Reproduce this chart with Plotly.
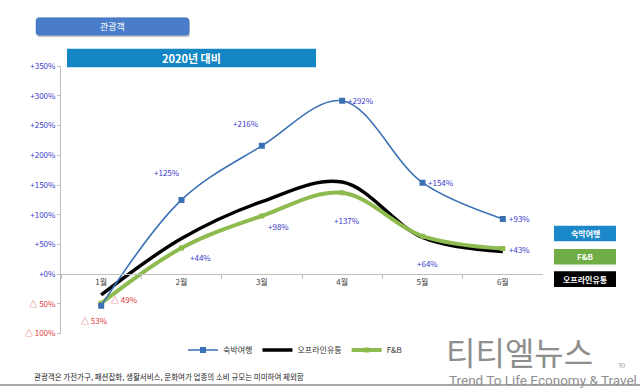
import plotly.graph_objects as go

# ---------------- data ----------------
months = ['1월', '2월', '3월', '4월', '5월', '6월']
lodging = [-53, 125, 216, 292, 154, 93]      # 숙박여행
offline = [-35, 60, 122, 155, 62, 38]        # 오프라인유통
fnb = [-49, 44, 98, 137, 64, 43]             # F&B
y_tick_vals = [-100, -50, 0, 50, 100, 150, 200, 250, 300, 350]

# label offsets (pixels) for data labels
lodging_off = [(-7, -15), (-15, 27), (-16, 22), (19, 0), (18, 0), (17, 0)]
fnb_off = [(23, 4), (19, -9), (17, -11), (5, -28), (5, -27), (17, -1)]

W, H = 640, 392
def px(x): return x / W
def py(y): return 1 - y / H

FONT = "Noto Sans CJK KR"
POS_C = '#3A3AC8'
NEG_C = '#E03A3A'

def fmt(v):
    return f"△ {abs(v)}%" if v < 0 else f"+{v}%"

def tick_txt(v):
    c = NEG_C if v < 0 else POS_C
    return f"<span style='color:{c}'>{fmt(v)}</span>"

x_dom = [px(61), px(543)]
y_dom = [py(337), py(62)]
y_rng = [-100, 350]
zero_pos = y_dom[0] + (0 - y_rng[0]) / (y_rng[1] - y_rng[0]) * (y_dom[1] - y_dom[0])

fig = go.Figure()
fig.add_trace(go.Scatter(x=months, y=offline, name='오프라인유통', mode='lines',
                         line=dict(color='#000000', width=3.5, shape='spline', smoothing=1.0),
                         legendrank=2))
fig.add_trace(go.Scatter(x=months, y=fnb, name='F&B', mode='lines+markers',
                         line=dict(color='#8DBB4F', width=4, shape='spline', smoothing=1.0),
                         marker=dict(symbol='square', size=5, color='#8DBB4F'),
                         legendrank=3))
fig.add_trace(go.Scatter(x=months, y=lodging, name='숙박여행', mode='lines+markers',
                         line=dict(color='#3A70B4', width=1.6, shape='spline', smoothing=1.0),
                         marker=dict(symbol='square', size=6, color='#3A70B4'),
                         legendrank=1))

annotations = []
for series, offs in ((lodging, lodging_off), (fnb, fnb_off)):
    for m, v, (dx, dy) in zip(months, series, offs):
        annotations.append(dict(x=m, y=v, xref='x', yref='y', text=fmt(v), showarrow=False,
                                xshift=dx, yshift=dy,
                                font=dict(family=FONT, size=8, color=NEG_C if v < 0 else POS_C)))

def rrect(x0, y0, x1, y1, r):
    P = lambda x, y: f"{px(x):.5f},{py(y):.5f}"
    return (f"M {P(x0+r,y0)} L {P(x1-r,y0)} Q {P(x1,y0)} {P(x1,y0+r)} L {P(x1,y1-r)} "
            f"Q {P(x1,y1)} {P(x1-r,y1)} L {P(x0+r,y1)} Q {P(x0,y1)} {P(x0,y1-r)} "
            f"L {P(x0,y0+r)} Q {P(x0,y0)} {P(x0+r,y0)} Z")

shapes = [
    dict(type='path', xref='paper', yref='paper', path=rrect(37, 14, 190, 32, 3),
         fillcolor='rgba(0,0,0,0.22)', line=dict(width=0)),
    dict(type='path', xref='paper', yref='paper', path=rrect(36, 12, 189, 30, 3),
         fillcolor='#4A7DC9', line=dict(color='#3F6FB8', width=0.5)),
    dict(type='rect', xref='paper', yref='paper', x0=px(67), x1=px(316), y0=py(63), y1=py(44),
         fillcolor='#1386C3', line=dict(width=0)),
    dict(type='rect', xref='paper', yref='paper', x0=px(554), x1=px(616), y0=py(242), y1=py(226),
         fillcolor='#1A88C9', line=dict(width=0)),
    dict(type='rect', xref='paper', yref='paper', x0=px(554), x1=px(616), y0=py(266), y1=py(250),
         fillcolor='#70AD47', line=dict(width=0)),
    dict(type='rect', xref='paper', yref='paper', x0=px(554), x1=px(616), y0=py(289), y1=py(273),
         fillcolor='#000000', line=dict(width=0)),
    dict(type='line', xref='paper', yref='paper', x0=0, x1=1, y0=py(390), y1=py(390),
         line=dict(color='#A8A8A8', width=2)),
]

def txt(x, y, t, size, color, xanchor='center', bold=False, family=FONT):
    if bold:
        t = f"<b>{t}</b>"
    return dict(x=px(x), y=py(y), xref='paper', yref='paper', text=t, showarrow=False,
                xanchor=xanchor, yanchor='middle', font=dict(family=family, size=size, color=color))

annotations += [
    txt(112, 21, '관광객', 9, '#FFFFFF'),
    txt(191, 54, '2020년 대비', 11, '#FFFFFF', bold=True),
    txt(585, 234, '숙박여행', 8, '#FFFFFF', bold=True),
    txt(585, 258, 'F&B', 8, '#FFFFFF', bold=True),
    txt(585, 281, '오프라인유통', 8, '#FFFFFF', bold=True),
    txt(32, 381, '관광객은 가전가구, 패션잡화, 생활서비스, 문화여가 업종의 소비 규모는 미미하여 제외함',
        7.5, '#222222', xanchor='left'),
    txt(444, 355, '티티엘뉴스', 32, '#8E8E8E', xanchor='left'),
    txt(447, 385, 'Trend To Life Economy &amp; Travel', 13.5, '#8E8E8E', xanchor='left', family='Roboto'),
    txt(622, 369, '30', 6.5, '#999999'),
]

fig.update_layout(
    width=W, height=H, margin=dict(l=0, r=0, t=0, b=0),
    paper_bgcolor='white', plot_bgcolor='white',
    font=dict(family=FONT, size=8, color='#404040'),
    xaxis=dict(domain=x_dom, type='category', range=[-0.5, 5.5], anchor='free', position=zero_pos,
               showline=True, linecolor='#BFBFBF', linewidth=1, ticks='outside', tickson='boundaries',
               ticklen=4, tickcolor='#BFBFBF', tickfont=dict(size=8, color='#404040'),
               showgrid=False, zeroline=False, fixedrange=True),
    yaxis=dict(domain=y_dom, range=y_rng, tickvals=y_tick_vals,
               ticktext=[tick_txt(v) for v in y_tick_vals],
               showline=True, linecolor='#BFBFBF', linewidth=1, ticks='outside', ticklen=3,
               tickcolor='#BFBFBF', tickfont=dict(size=8), showgrid=False, zeroline=False),
    legend=dict(orientation='h', x=px(295), xanchor='center', y=py(354), yanchor='middle',
                font=dict(size=8, color='#333333'), itemwidth=30, bgcolor='rgba(0,0,0,0)',
                tracegroupgap=0),
    shapes=shapes, annotations=annotations, showlegend=True,
)

fig.write_html("out.html", config={'displayModeBar': False},
               post_script="document.body.style.margin='0';")
